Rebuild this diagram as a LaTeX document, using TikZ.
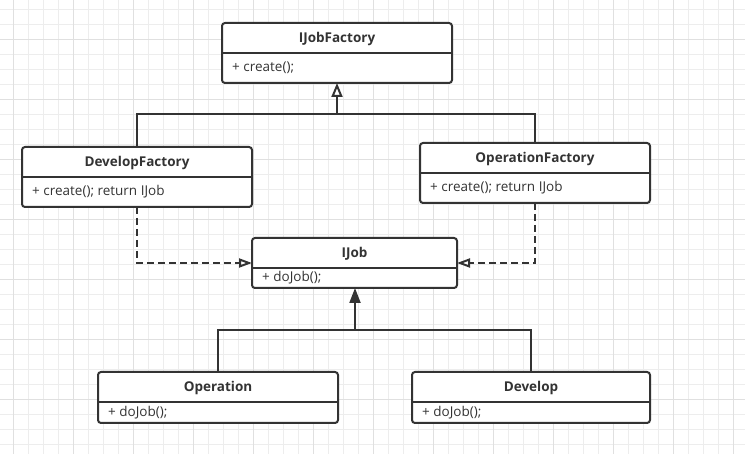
\documentclass[tikz,border=0pt]{standalone}
\usepackage{fontspec}
\setmainfont{Open Sans}
\usetikzlibrary{arrows.meta,calc}
\definecolor{ink}{HTML}{333333}
\definecolor{gridminor}{HTML}{EDEDED}
\definecolor{gridmajor}{HTML}{E0E0E0}
\tikzset{
  clsbox/.style={draw=ink, line width=2pt, rounded corners=3pt, fill=white, inner sep=0pt, outer sep=0pt},
  clsline/.style={draw=ink, line width=2pt},
  clstitle/.style={font=\fontsize{13.5}{15}\selectfont\bfseries, text=ink, inner sep=0pt},
  clsbody/.style={font=\fontsize{13.5}{15}\selectfont, text=ink, inner sep=0pt},
  conn/.style={draw=ink, line width=2pt},
  gen/.style={conn, -{Triangle[open, length=14pt, width=11pt, line width=2pt]}},
  genfill/.style={conn, -{Triangle[length=15pt, width=11pt]}},
  real/.style={conn, dash pattern=on 7pt off 4pt, -{Triangle[open, length=13pt, width=9pt, line width=2pt]}},
  minorgrid/.style={draw=gridminor, line width=1pt},
  majorgrid/.style={draw=gridmajor, line width=1pt},
}
\newcommand\umlcls[7]{%
  \node[clsbox, minimum width=#4pt, minimum height=#5pt] (#1) at (#2,#3) {};
  \draw[clsline] ($(#1.north west)+(0,30)$) -- ($(#1.north east)+(0,30)$);
  \node[clstitle] (#1-t) at ($(#1.north)+(0,16)$) {#6};
  \node[clsbody, anchor=west] (#1-b) at ($(#1.west)+(10,15)$) {#7};
}
\begin{document}
\begin{tikzpicture}[x=1pt, y=-1pt]
  \useasboundingbox (0,0) rectangle (745,454);
  \fill[white] (0,0) rectangle (745,454);
  \begin{scope}
    \clip (0,0) rectangle (745,454);
    \foreach \i in {0,...,49} {
      \pgfmathsetmacro\gx{13.33+15*\i}
      \draw[minorgrid] (\gx,0) -- (\gx,454);
    }
    \foreach \i in {0,...,30} {
      \pgfmathsetmacro\gy{9.33+15*\i}
      \draw[minorgrid] (0,\gy) -- (745,\gy);
    }
    \foreach \i in {0,...,12} {
      \pgfmathsetmacro\gx{13.33+60*\i}
      \draw[majorgrid] (\gx,0) -- (\gx,454);
    }
    \foreach \i in {0,...,7} {
      \pgfmathsetmacro\gy{39.33+60*\i}
      \draw[majorgrid] (0,\gy) -- (745,\gy);
    }
  \end{scope}

  \umlcls{ijf}{337}{53}{230}{60}{IJobFactory}{+ create();}
  \umlcls{df}{137}{177}{230}{60}{DevelopFactory}{+ create(); return IJob}
  \umlcls{of}{535}{173}{230}{60}{OperationFactory}{+ create(); return IJob}
  \umlcls{ij}{354.5}{263}{205}{50}{IJob}{+ doJob();}
  \umlcls{op}{218}{397.5}{240}{51}{Operation}{+ doJob();}
  \umlcls{dv}{531}{397.5}{238}{51}{Develop}{+ doJob();}

  \coordinate (j1) at (337,114);
  \coordinate (j2) at (355,330);

  \draw[conn] (df.north) |- (j1);
  \draw[conn] (of.north) |- (j1);
  \draw[gen] (j1) -- (ijf.south);

  \draw[real] (df.south) |- (ij.west);
  \draw[real] (of.south) |- (ij.east);

  \draw[conn] (op.north) |- (j2);
  \draw[conn] (dv.north) |- (j2);
  \draw[genfill] (j2) -- (ij.south -| j2);
\end{tikzpicture}
\end{document}
